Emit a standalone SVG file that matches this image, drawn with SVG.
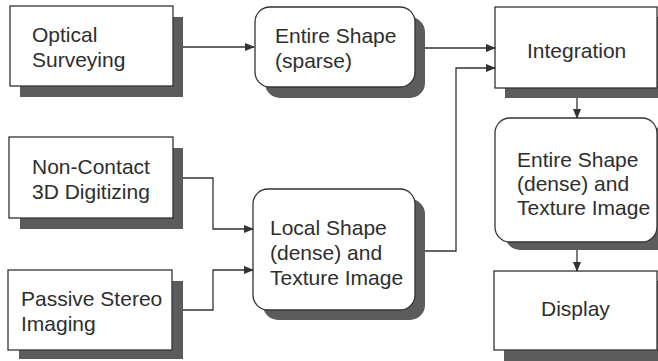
<svg xmlns="http://www.w3.org/2000/svg" width="658" height="361" viewBox="0 0 658 361">
<defs>
<marker id="ah" markerWidth="10" markerHeight="8" refX="9" refY="4" orient="auto" markerUnits="userSpaceOnUse">
<path d="M0,0 L10,4 L0,8 Z" fill="#333"/>
</marker>
</defs>
<style>
.shadow{fill:#5c5c5c;}
.box{fill:#fff;stroke:#333;stroke-width:1.3;}
.lbl{font-family:"Liberation Sans",Arial,Helvetica,sans-serif;font-size:21px;fill:#2e2e2e;}
.conn{fill:none;stroke:#333;stroke-width:1.3;marker-end:url(#ah);}
</style>
<rect width="658" height="361" fill="#fff"/>

<g id="optical">
<rect class="shadow" x="20" y="17" width="163" height="80"/>
<rect class="box" x="10" y="6" width="163" height="80"/>
<text class="lbl" x="32" y="42">Optical</text>
<text class="lbl" x="32" y="67">Surveying</text>
</g>

<g id="noncontact">
<rect class="shadow" x="20" y="148" width="163" height="81"/>
<rect class="box" x="9" y="137" width="164" height="81"/>
<text class="lbl" x="32" y="174">Non-Contact</text>
<text class="lbl" x="32" y="199">3D Digitizing</text>
</g>

<g id="passive">
<rect class="shadow" x="19" y="281" width="164" height="78"/>
<rect class="box" x="8" y="270" width="164" height="80"/>
<text class="lbl" x="21" y="306">Passive Stereo</text>
<text class="lbl" x="21" y="331">Imaging</text>
</g>

<g id="sparse">
<rect class="shadow" x="265" y="17" width="160" height="81" rx="15"/>
<rect class="box" x="255" y="7" width="160" height="80" rx="15"/>
<text class="lbl" x="275" y="43">Entire Shape</text>
<text class="lbl" x="275" y="68">(sparse)</text>
</g>

<g id="local">
<rect class="shadow" x="263" y="199" width="162" height="121" rx="15"/>
<rect class="box" x="253" y="189" width="162" height="121" rx="15"/>
<text class="lbl" x="270" y="235">Local Shape</text>
<text class="lbl" x="270" y="260">(dense) and</text>
<text class="lbl" x="270" y="285">Texture Image</text>
</g>

<g id="integration">
<rect class="shadow" x="505" y="17" width="170" height="81"/>
<rect class="box" x="495" y="7" width="162" height="81"/>
<text class="lbl" x="527" y="58">Integration</text>
</g>

<g id="dense">
<rect class="shadow" x="505" y="128" width="170" height="122" rx="15"/>
<rect class="box" x="495" y="118" width="162" height="124" rx="15"/>
<text class="lbl" x="517" y="167">Entire Shape</text>
<text class="lbl" x="517" y="191">(dense) and</text>
<text class="lbl" x="517" y="215">Texture Image</text>
</g>

<g id="display">
<rect class="shadow" x="504" y="281" width="170" height="85"/>
<rect class="box" x="494" y="271" width="163" height="79"/>
<text class="lbl" x="541" y="316">Display</text>
</g>

<g id="connectors">
<path class="conn" d="M183,47 H254"/>
<path class="conn" d="M425,48 H495"/>
<path class="conn" d="M425,251 H456 V68 H495"/>
<path class="conn" d="M183,178 H213 V229 H253"/>
<path class="conn" d="M183,310 H213 V270 H253"/>
<path class="conn" d="M577,98 V118"/>
<path class="conn" d="M577,250 V271"/>
</g>
</svg>
